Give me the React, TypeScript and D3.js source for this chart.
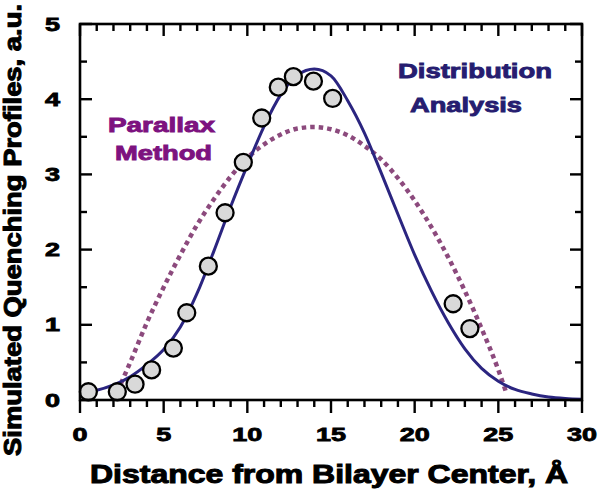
import React from 'react';
import * as d3 from 'd3';

// measured quenching points
const pointDist = [0.5, 2.23, 3.29, 4.28, 5.58, 6.38, 7.67, 8.67, 9.76, 10.86, 11.85, 12.75, 13.95, 15.1, 22.3, 23.3];
const pointQuench = [0.11, 0.11, 0.21, 0.4, 0.69, 1.16, 1.78, 2.49, 3.16, 3.75, 4.16, 4.3, 4.24, 4.01, 1.28, 0.95];

// "Distribution Analysis" curve
const distCurveX = [0.4, 1, 2, 3, 4, 5, 6, 7, 8, 9, 10, 11, 12, 13, 14, 15, 16, 17, 18, 19, 20, 21, 22, 23, 24, 25, 26, 27, 28, 29, 30];
const distCurveY = [0.11, 0.13, 0.2, 0.31, 0.47, 0.67, 0.97, 1.42, 1.98, 2.57, 3.12, 3.64, 4.06, 4.32, 4.4, 4.31, 3.98, 3.55, 3.02, 2.47, 1.93, 1.45, 1.03, 0.68, 0.42, 0.25, 0.14, 0.08, 0.04, 0.02, 0.01];

// "Parallax Method" curve
const parCurveX = [2.45, 3, 4, 5, 6, 7, 8, 9, 10, 11, 12, 13, 14, 15, 16, 17, 18, 19, 20, 21, 22, 23, 24, 25, 25.5];
const parCurveY = [0.22, 0.5, 1.03, 1.5, 1.93, 2.33, 2.67, 2.97, 3.22, 3.4, 3.53, 3.61, 3.63, 3.6, 3.52, 3.38, 3.2, 2.95, 2.65, 2.3, 1.9, 1.45, 0.95, 0.4, 0.08];

const xTicks = [0, 5, 10, 15, 20, 25, 30];
const yTicks = [0, 1, 2, 3, 4, 5];

const font = '"Liberation Sans", Arial, sans-serif';

// heavier look: bold glyphs plus a thin outline in the same colour
const heavy = (color: string, w = 0.9) => ({
  fontFamily: font,
  fontWeight: 'bold' as const,
  fill: color,
  stroke: color,
  strokeWidth: w,
  lengthAdjust: 'spacingAndGlyphs' as const,
});

export default function App() {
  const W = 600;
  const H = 493;
  const x = d3.scaleLinear().domain([0, 30]).range([80, 582]);
  const y = d3.scaleLinear().domain([0, 5]).range([400, 24]);

  const line = d3
    .line<[number, number]>()
    .x(d => x(d[0]))
    .y(d => y(d[1]))
    .curve(d3.curveMonotoneX);

  const distData = distCurveX.map((v, i) => [v, distCurveY[i]] as [number, number]);
  const parData = parCurveX.map((v, i) => [v, parCurveY[i]] as [number, number]);

  const xMinor = d3.range(0, 30.001, 1);
  const yMinor = d3.range(0, 5.001, 0.5);
  const isMajorX = (v: number) => v % 5 === 0;
  const isMajorY = (v: number) => Math.abs(v - Math.round(v)) < 1e-6;

  return (
    <svg width={W} height={H} style={{position: 'absolute', left: 0, top: 0, background: '#fff'}}>
      {/* parallax curve */}
      <path d={line(parData) || ''} fill="none" stroke="#8c4a7d" strokeWidth={4.5} strokeDasharray="4.5 4" />
      {/* distribution curve */}
      <path d={line(distData) || ''} fill="none" stroke="#2b2580" strokeWidth={3} />

      {/* points */}
      {pointDist.map((d, i) => (
        <circle key={i} cx={x(d)} cy={y(pointQuench[i])} r={8.5} fill="#d9d9d9" stroke="#000" strokeWidth={2.3} />
      ))}

      {/* frame */}
      <rect x={x(0)} y={y(5)} width={x(30) - x(0)} height={y(0) - y(5)} fill="none" stroke="#000" strokeWidth={2.6} />

      {/* bottom ticks (outward) and top ticks (inward) */}
      {xMinor.map(v => (
        <g key={'x' + v}>
          <line x1={x(v)} x2={x(v)} y1={y(0)} y2={y(0) + (isMajorX(v) ? 13 : 7)} stroke="#000" strokeWidth={2.4} />
          <line x1={x(v)} x2={x(v)} y1={y(5)} y2={y(5) + (isMajorX(v) ? 12 : 7)} stroke="#000" strokeWidth={2.4} />
        </g>
      ))}
      {/* left and right ticks (inward) */}
      {yMinor.map(v => (
        <g key={'y' + v}>
          <line x1={x(0)} x2={x(0) + (isMajorY(v) ? 12 : 7)} y1={y(v)} y2={y(v)} stroke="#000" strokeWidth={2.4} />
          <line x1={x(30)} x2={x(30) - (isMajorY(v) ? 12 : 7)} y1={y(v)} y2={y(v)} stroke="#000" strokeWidth={2.4} />
        </g>
      ))}

      {/* tick labels */}
      {xTicks.map(v => (
        <text key={'xl' + v} x={x(v)} y={441} textAnchor="middle" fontSize={18}
          textLength={String(v).length * 15} {...heavy('#000', 0.8)}>{v}</text>
      ))}
      {yTicks.map(v => (
        <text key={'yl' + v} x={60} y={y(v) + 6.5} textAnchor="end" fontSize={17.5}
          textLength={15} {...heavy('#000', 0.8)}>{v}</text>
      ))}

      {/* axis titles */}
      <text x={329} y={483} textAnchor="middle" fontSize={25}
        textLength={478} {...heavy('#000', 1)}>Distance from Bilayer Center, Å</text>
      <text transform="translate(20.5,230) rotate(-90)" textAnchor="middle" fontSize={23}
        textLength={452} {...heavy('#000', 1)}>Simulated Quenching Profiles, a.u.</text>

      {/* annotations */}
      <text x={161.5} y={132} textAnchor="middle" fontSize={20}
        textLength={107} {...heavy('#7d127f')}>Parallax</text>
      <text x={163.5} y={160} textAnchor="middle" fontSize={20}
        textLength={97} {...heavy('#7d127f')}>Method</text>
      <text x={475} y={78} textAnchor="middle" fontSize={21}
        textLength={154} {...heavy('#261d70')}>Distribution</text>
      <text x={466} y={112} textAnchor="middle" fontSize={21}
        textLength={112} {...heavy('#261d70')}>Analysis</text>
    </svg>
  );
}
